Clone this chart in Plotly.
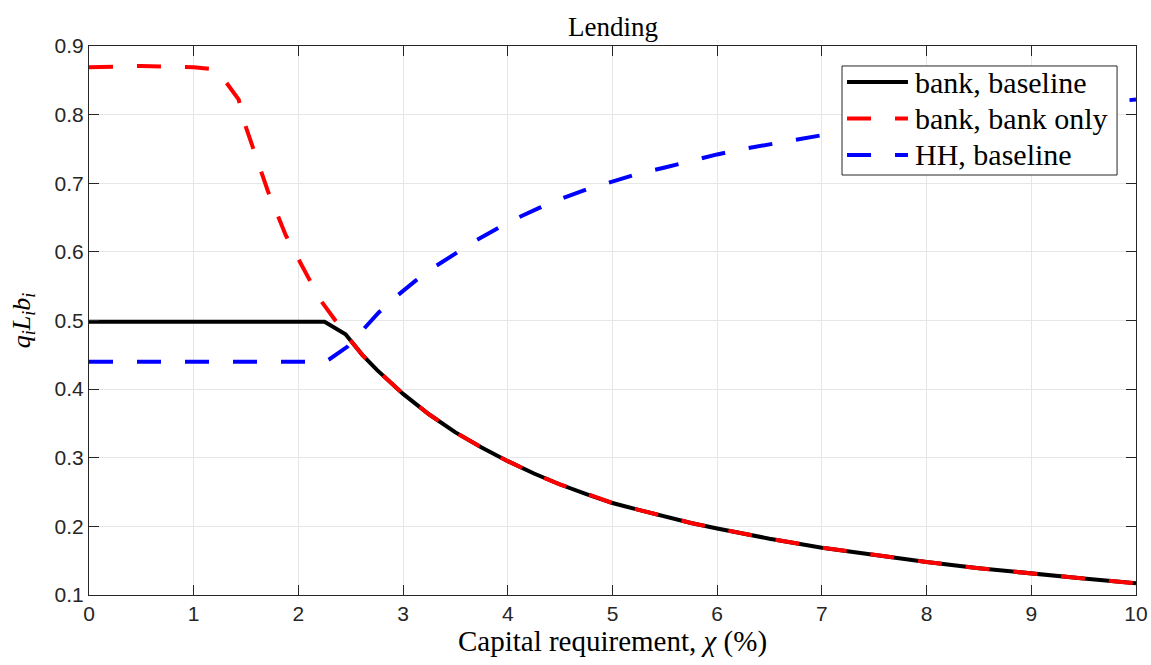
import plotly.graph_objects as go

# Capital requirement grid (%) and lending for each series
chi_bank = [0.0, 0.5, 1.0, 1.5, 2.0, 2.25, 2.45, 2.61, 2.75, 3.0, 3.25, 3.5, 3.75,
            4.0, 4.25, 4.5, 4.75, 5.0, 5.25, 5.5, 5.75, 6.0, 6.5, 7.0, 7.5, 8.0,
            8.5, 9.0, 9.5, 10.0]
bank_baseline = [0.498, 0.498, 0.498, 0.498, 0.498, 0.498, 0.480, 0.450, 0.428,
                 0.393, 0.363, 0.337, 0.315, 0.295, 0.277, 0.261, 0.247, 0.234,
                 0.224, 0.214, 0.205, 0.197, 0.182, 0.169, 0.158, 0.148, 0.139,
                 0.131, 0.124, 0.117]

chi_bank_only = [0.0, 0.5, 1.0, 1.2, 1.3, 1.43, 1.48, 1.56, 1.71, 1.88, 2.0, 2.1,
                 2.2, 2.34, 2.45, 2.61, 2.75, 3.0, 3.25, 3.5, 3.75, 4.0, 4.25, 4.5,
                 4.75, 5.0, 5.25, 5.5, 5.75, 6.0, 6.5, 7.0, 7.5, 8.0, 8.5, 9.0,
                 9.5, 10.0]
bank_bank_only = [0.869, 0.871, 0.869, 0.866, 0.849, 0.822, 0.790, 0.756, 0.688,
                  0.624, 0.588, 0.561, 0.532, 0.503, 0.480, 0.450, 0.428, 0.393,
                  0.363, 0.337, 0.315, 0.295, 0.277, 0.261, 0.247, 0.234, 0.224,
                  0.214, 0.205, 0.197, 0.182, 0.169, 0.158, 0.148, 0.139, 0.131,
                  0.124, 0.117]

chi_hh = [0.0, 0.5, 1.0, 1.5, 2.0, 2.25, 2.3, 2.47, 2.62, 2.77, 2.95, 3.12, 3.31,
          3.5, 3.7, 3.9, 4.1, 4.3, 4.5, 4.75, 5.0, 5.25, 5.5, 5.75, 6.0, 6.25,
          6.5, 6.75, 7.0, 7.5, 8.0, 8.5, 9.0, 9.5, 10.0]
hh_baseline = [0.440, 0.440, 0.440, 0.440, 0.440, 0.440, 0.444, 0.462, 0.487,
               0.512, 0.537, 0.558, 0.579, 0.598, 0.617, 0.634, 0.650, 0.664,
               0.677, 0.691, 0.703, 0.714, 0.723, 0.733, 0.742, 0.750, 0.757,
               0.764, 0.770, 0.781, 0.791, 0.800, 0.808, 0.815, 0.822]

series_names = ["bank, baseline", "bank, bank only", "HH, baseline"]

x_ticks = list(range(0, 11))
y_ticks = [0.1, 0.2, 0.3, 0.4, 0.5, 0.6, 0.7, 0.8, 0.9]

SERIF = "Liberation Serif, DejaVu Serif, serif"
SANS = "Liberation Sans, Arial, sans-serif"
AXIS_COLOR = "#262626"
GRID_COLOR = "#e6e6e6"
DASH = "24px,24px"
styles = [
    dict(color="black", width=4),
    dict(color="#ff0000", width=4, dash=DASH),
    dict(color="#0000ff", width=4, dash=DASH),
]

fig = go.Figure()
for xs, ys, name, st in zip([chi_bank, chi_bank_only, chi_hh],
                            [bank_baseline, bank_bank_only, hh_baseline],
                            series_names, styles):
    fig.add_trace(go.Scatter(x=xs, y=ys, mode="lines", name=name,
                             line=st, showlegend=False))

axis_common = dict(
    showline=True, linecolor=AXIS_COLOR, linewidth=1, mirror="ticks",
    ticks="inside", ticklen=10, tickcolor=AXIS_COLOR, tickwidth=1,
    showgrid=True, gridcolor=GRID_COLOR, gridwidth=1, zeroline=False,
    tickfont=dict(family=SANS, size=21, color=AXIS_COLOR),
    automargin=False,
)

fig.update_xaxes(
    range=[0, 10], tickvals=x_ticks, ticktext=[str(v) for v in x_ticks],
    title=dict(text="Capital requirement, <i>χ</i> (%)",
               font=dict(family=SERIF, size=29, color="black"), standoff=5),
    **axis_common,
)
fig.update_yaxes(
    range=[0.1, 0.9], tickvals=y_ticks, ticktext=[f"{v:.1f}" for v in y_ticks],
    title=dict(text="<i>q<sub>i</sub>L<sub>i</sub>b<sub>i</sub></i>",
               font=dict(family=SERIF, size=26, color="black"), standoff=16),
    **axis_common,
)

# Boxed legend in the upper right corner of the axes
box_x0, box_x1, box_y0, box_y1 = 0.7192, 0.9819, 0.765, 0.9636
row_y = [0.9344, 0.8679, 0.8015]
sample_x0, sample_x1, text_x = 0.724, 0.7822, 0.787

fig.add_shape(type="rect", xref="paper", yref="paper",
              x0=box_x0, x1=box_x1, y0=box_y0, y1=box_y1,
              fillcolor="white", line=dict(color=AXIS_COLOR, width=1),
              layer="above")
for name, st, yy in zip(series_names, styles, row_y):
    fig.add_shape(type="line", xref="paper", yref="paper",
                  x0=sample_x0, x1=sample_x1, y0=yy, y1=yy,
                  line=st, layer="above")
    fig.add_annotation(text=name, xref="paper", yref="paper", x=text_x, y=yy,
                       xanchor="left", yanchor="middle", showarrow=False,
                       font=dict(family=SERIF, size=30, color="black"))

fig.update_layout(
    width=1151, height=665,
    margin=dict(l=89, r=15, t=46, b=70),
    paper_bgcolor="white", plot_bgcolor="white",
    title=dict(text="Lending", x=0.5326, xanchor="center", y=0.96, yanchor="middle",
               font=dict(family=SERIF, size=27, color="black")),
    showlegend=False,
)

fig.write_html("out.html")
